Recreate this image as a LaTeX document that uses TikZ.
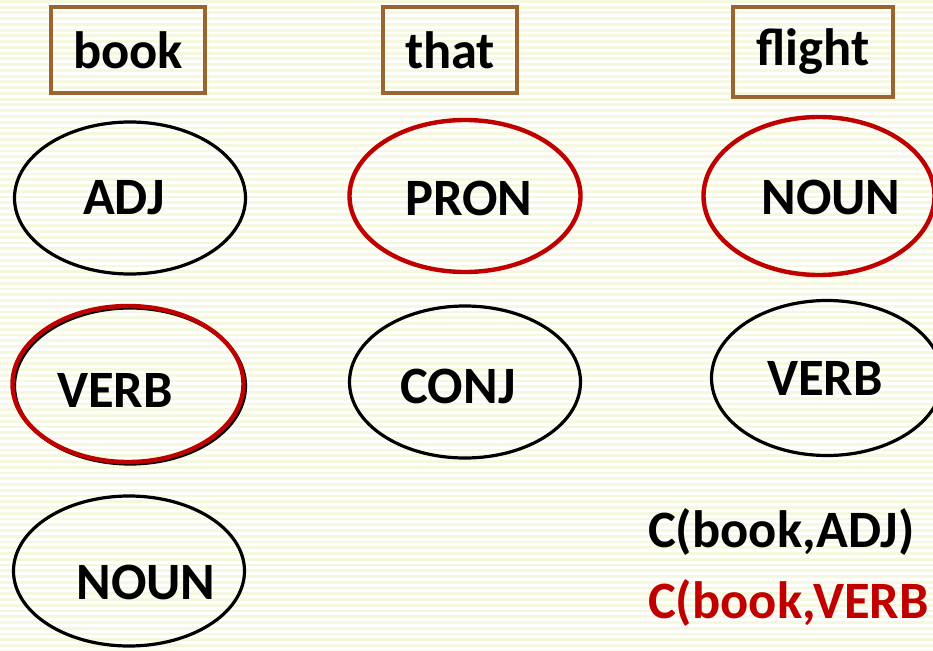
\documentclass[tikz,border=0pt]{standalone}
\usepackage{fontspec}
\setmainfont{Carlito}
\usepackage{xcolor}
\usepackage{tikz}
\usetikzlibrary{shapes.geometric}
\definecolor{tagred}{HTML}{C00000}
\definecolor{boxbrown}{HTML}{9C6430}
\definecolor{stripe}{HTML}{F5F8DF}
\tikzset{
  word/.style={draw=boxbrown, line width=3.4pt, minimum height=86pt, inner sep=0pt},
  tag/.style={ellipse, draw=black, line width=3.2pt, minimum width=231pt, minimum height=152pt, inner sep=0pt},
  picked/.style={tag, draw=tagred, line width=4.4pt},
}

\begin{document}
\begin{tikzpicture}[x=1pt,y=-1pt,font=\fontsize{52.5}{60}\selectfont\bfseries]
	\useasboundingbox (0,0) rectangle (933,650);
	\clip (0,0) rectangle (933,650);
	\foreach \k in {0,...,113}
		\fill[stripe] (0,5.75*\k) rectangle ++(933,2.9);
	% words
	\node[word, minimum width=154pt] (book) at (128,50) {book};
	\node[word, minimum width=134pt] (that) at (450,50) {that};
	\node[word, minimum width=160pt, minimum height=90pt] (flight) at (813,52) {flight};
	% tags of book
	\node[tag, label={[xshift=-6pt]center:ADJ}] (bookADJ) at (130,198) {};
	\node[tag, minimum height=156pt] (bookVERBb) at (130,386) {};
	\node[picked, minimum height=156pt, label={[xshift=-13pt,yshift=-6pt]center:VERB}] (bookVERB) at (128,384) {};
	\node[tag, minimum height=150pt, label={[xshift=17pt,yshift=-11pt]center:NOUN}] (bookNOUN) at (129,571) {};
	% tags of that
	\node[picked, label={[xshift=4pt,yshift=-2pt]center:PRON}] (thatPRON) at (465,196) {};
	\node[tag, label={[xshift=-7pt,yshift=-4pt]center:CONJ}] (thatCONJ) at (465,382) {};
	% tags of flight
	\node[picked, minimum height=158pt, label={[xshift=12pt,yshift=-1pt]center:NOUN}] (flightNOUN) at (819,196) {};
	\node[tag, minimum height=155pt, label={[xshift=-2pt]center:VERB}] (flightVERB) at (827,378) {};
	% counts
	\node[anchor=base west, inner sep=0pt] (cADJ) at (648,547) {C(book,ADJ)};
	\node[anchor=base west, inner sep=0pt, text=tagred] (cVERB) at (648,618) {C(book,VERB};
\end{tikzpicture}
\end{document}
